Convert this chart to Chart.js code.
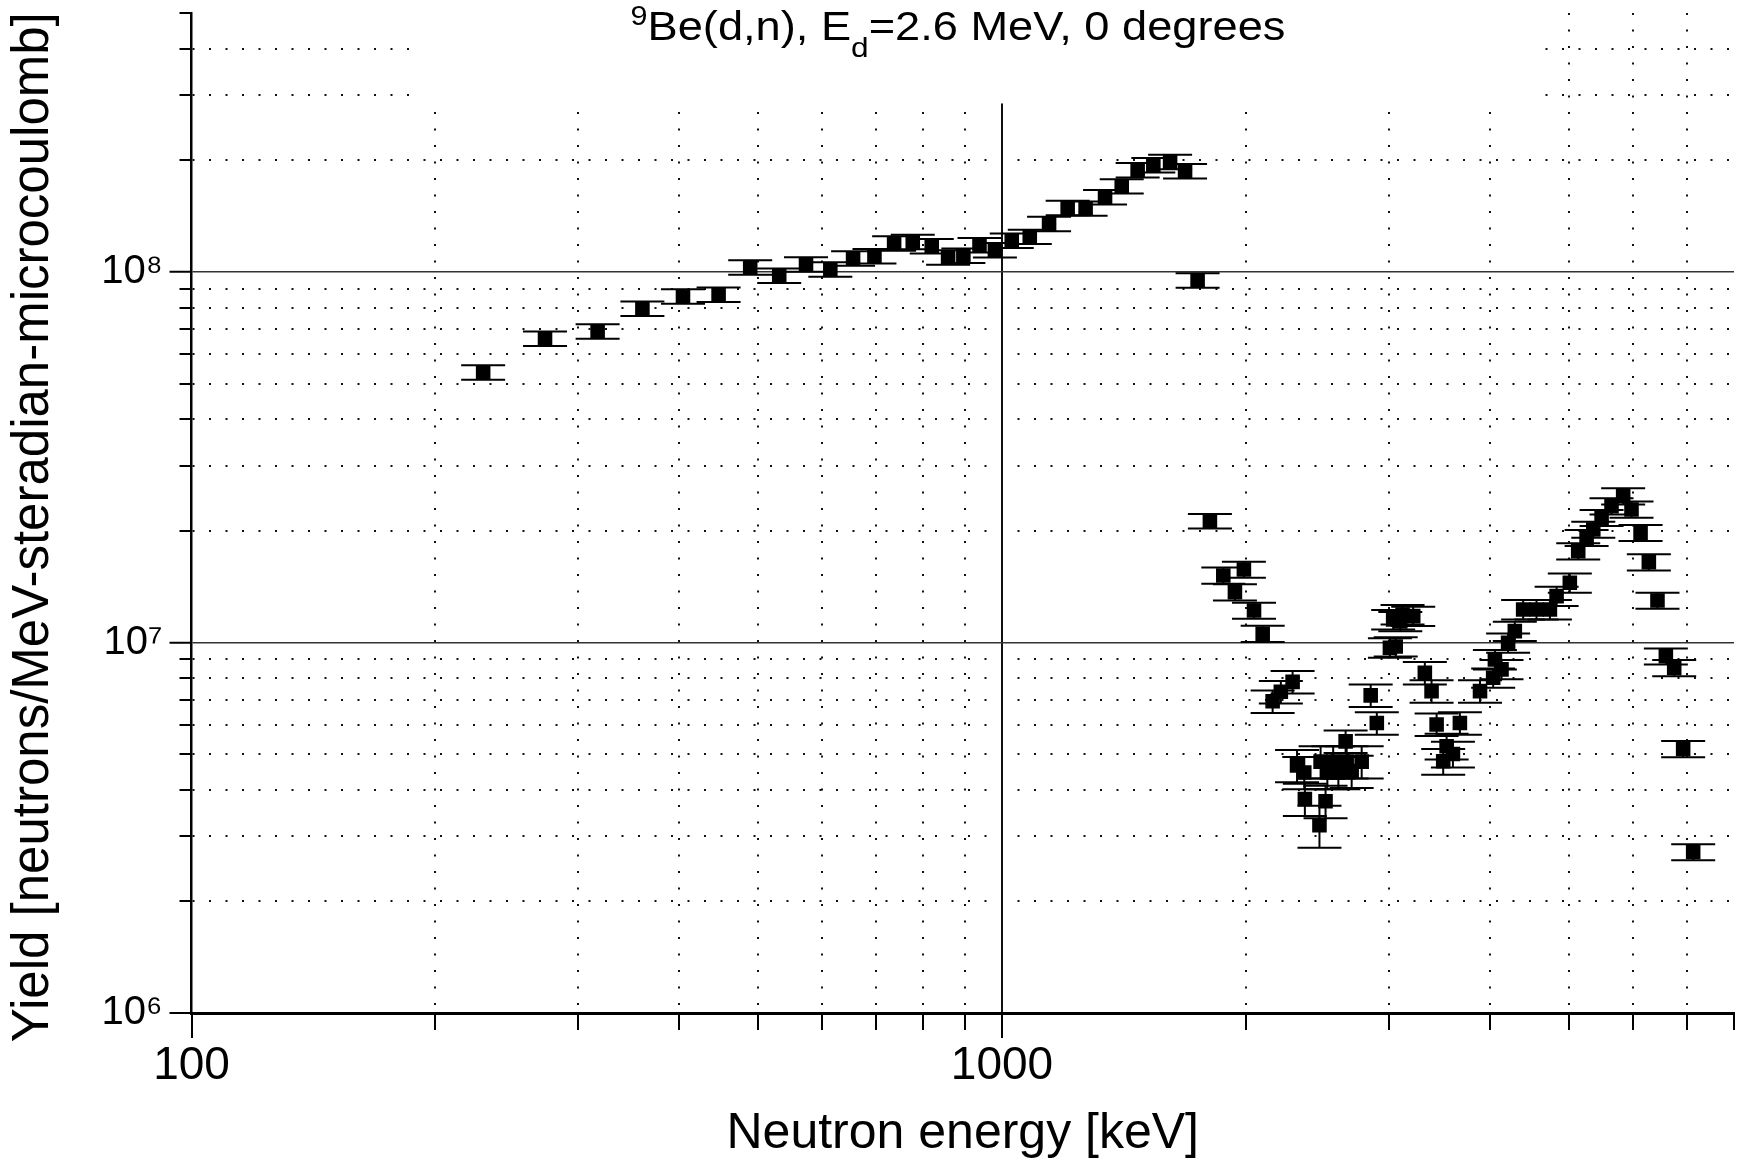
<!DOCTYPE html>
<html>
<head>
<meta charset="utf-8">
<script src="https://cdn.jsdelivr.net/npm/chart.js@4/dist/chart.umd.min.js"></script>
<style>
  html, body { margin: 0; padding: 0; background: #fff; }
  #wrap { position: relative; width: 1746px; height: 1165px; }
</style>
</head>
<body>
<div id="wrap"><canvas id="c" width="1746" height="1165"></canvas></div>
<script>
// ---------------- data ----------------
const energyKeV = [
  229, 273, 317, 360, 404, 447, 489, 531, 573, 614, 655, 696, 736, 776, 819, 858, 896, 938, 980,
  1028, 1082, 1143, 1205, 1268, 1340, 1405, 1470, 1537, 1612, 1682, 1743,
  1805, 1875, 1938, 1988, 2046, 2097, 2157, 2208, 2283,
  2312, 2364, 2360, 2472, 2464, 2507, 2520, 2562, 2600, 2654, 2662, 2700, 2778,
  2850, 2900, 3010, 3038, 3060, 3100, 3120, 3216, 3324, 3388, 3437, 3502, 3536, 3600, 3672,
  3888, 4036, 4056, 4133, 4211, 4292, 4395, 4565, 4742, 4833, 5018, 5139, 5263, 5364,
  5492, 5649, 5839, 5979, 6135, 6281, 6437, 6592, 6750, 6924, 7124
];
const yieldValues = [
  5.36e7, 6.61e7, 6.92e7, 7.96e7, 8.6e7, 8.69e7, 1.03e8, 9.78e7, 1.048e8, 1.016e8, 1.088e8,
  1.103e8, 1.194e8, 1.206e8, 1.174e8, 1.096e8, 1.108e8, 1.181e8, 1.145e8,
  1.216e8, 1.245e8, 1.349e8, 1.49e8, 1.484e8, 1.592e8, 1.704e8, 1.883e8, 1.943e8, 1.984e8, 1.871e8, 9.5e7,
  2.126e7, 1.517e7, 1.367e7, 1.574e7, 1.22e7, 1.056e7, 6.94e6, 7.36e6, 7.83e6,
  4.66e6, 3.78e6, 4.46e6, 4.77e6, 3.21e6, 3.73e6, 4.46e6, 4.77e6, 4.46e6, 5.41e6, 4.77e6, 4.5e6, 4.77e6,
  7.2e6, 6.06e6, 9.68e6, 1.154e7, 9.75e6, 1.14e7, 1.19e7, 1.178e7, 8.28e6, 7.39e6, 6.01e6, 4.78e6, 5.25e6, 5.0e6, 6.06e6,
  7.39e6, 8.03e6, 9.0e6, 8.46e6, 9.98e6, 1.073e7, 1.228e7, 1.228e7, 1.228e7, 1.334e7, 1.449e7, 1.764e7, 1.917e7, 2.018e7,
  2.17e7, 2.333e7, 2.482e7, 2.286e7, 1.977e7, 1.647e7, 1.298e7, 9.18e6, 8.54e6, 5.16e6, 2.72e6
];
const yieldRelError = [
  0.045, 0.045, 0.045, 0.045, 0.045, 0.045, 0.045, 0.045, 0.045, 0.045, 0.045, 0.045, 0.045, 0.045, 0.045, 0.045, 0.045, 0.045, 0.045,
  0.045, 0.045, 0.045, 0.045, 0.045, 0.045, 0.045, 0.045, 0.045, 0.045, 0.045, 0.045,
  0.045, 0.05, 0.05, 0.05, 0.05, 0.05, 0.07, 0.07, 0.07,
  0.1, 0.1, 0.1, 0.1, 0.13, 0.1, 0.1, 0.1, 0.1, 0.07, 0.1, 0.1, 0.1,
  0.07, 0.07, 0.06, 0.06, 0.06, 0.06, 0.06, 0.06, 0.07, 0.07, 0.07, 0.08, 0.08, 0.08, 0.07,
  0.07, 0.06, 0.06, 0.06, 0.06, 0.06, 0.06, 0.06, 0.06, 0.06, 0.06, 0.05, 0.05, 0.05,
  0.05, 0.05, 0.05, 0.05, 0.05, 0.05, 0.05, 0.05, 0.05, 0.05, 0.05
];

const xTickValues = [100, 200, 300, 400, 500, 600, 700, 800, 900, 1000, 2000, 3000, 4000, 5000, 6000, 7000, 8000];
const xTickLabels = { 100: '100', 1000: '1000' };
const yTickValues = [1e6, 2e6, 3e6, 4e6, 5e6, 6e6, 7e6, 8e6, 9e6,
                     1e7, 2e7, 3e7, 4e7, 5e7, 6e7, 7e7, 8e7, 9e7,
                     1e8, 2e8, 3e8, 4e8, 5e8];
const yTickLabels = { 1000000: '10\u2076', 10000000: '10\u2077', 100000000: '10\u2078' };

const titleParts = [
  { text: '9', kind: 'sup' },
  { text: 'Be(d,n), E', kind: 'main' },
  { text: 'd', kind: 'sub' },
  { text: '=2.6 MeV, 0 degrees', kind: 'main' }
];
const xAxisTitle = 'Neutron energy [keV]';
const yAxisTitle = 'Yield [neutrons/MeV-steradian-microcoulomb]';

// ---------------- style ----------------
const FONT = '"Liberation Sans", Arial, Helvetica, sans-serif';
const X_MIN = 100, X_MAX = 8000, Y_MIN = 1e6, Y_MAX = 5e8;
const MASK = { xFrom: 190, xTo: 4500, yFrom: 2.85e8 };   // erased grid area behind the title
const TITLE_STYLE = {
  centerX: 958, baseline: 40, stretchX: 1.13,
  size: { main: 40, sup: 27, sub: 28 },
  shift: { main: 0, sup: -15, sub: 17 }
};

const isMajorX = v => v === 100 || v === 1000;
const isMajorY = v => v === 1e6 || v === 1e7 || v === 1e8;

const maskPlugin = {
  id: 'maskPlugin',
  beforeDatasetsDraw(chart) {
    const { ctx, scales: { x, y }, chartArea } = chart;
    const x0 = x.getPixelForValue(MASK.xFrom), x1 = x.getPixelForValue(MASK.xTo);
    const y1 = y.getPixelForValue(MASK.yFrom);
    ctx.save();
    ctx.fillStyle = '#fff';
    ctx.fillRect(x0, chartArea.top - 2, x1 - x0, y1 - chartArea.top + 2);
    ctx.restore();
  }
};

const errorBarPlugin = {
  id: 'errorBarPlugin',
  afterDatasetsDraw(chart) {
    const { ctx, scales: { x, y } } = chart;
    ctx.save();
    ctx.strokeStyle = '#000';
    ctx.lineWidth = 2;
    const cap = 22;
    energyKeV.forEach((e, i) => {
      const v = yieldValues[i], err = yieldRelError[i];
      const px = x.getPixelForValue(e);
      const yt = y.getPixelForValue(v * (1 + err));
      const yb = y.getPixelForValue(v * (1 - err));
      ctx.beginPath();
      ctx.moveTo(px, yt); ctx.lineTo(px, yb);
      ctx.moveTo(px - cap, yt); ctx.lineTo(px + cap, yt);
      ctx.moveTo(px - cap, yb); ctx.lineTo(px + cap, yb);
      ctx.stroke();
    });
    ctx.restore();
  }
};

const titlePlugin = {
  id: 'titlePlugin',
  afterDraw(chart) {
    const { ctx } = chart;
    const S = TITLE_STYLE;
    ctx.save();
    ctx.fillStyle = '#000';
    ctx.textBaseline = 'alphabetic';
    let total = 0;
    titleParts.forEach(p => { ctx.font = S.size[p.kind] + 'px ' + FONT; total += ctx.measureText(p.text).width; });
    ctx.translate(S.centerX - total * S.stretchX / 2, 0);
    ctx.scale(S.stretchX, 1);
    let cx = 0;
    titleParts.forEach(p => {
      ctx.font = S.size[p.kind] + 'px ' + FONT;
      ctx.fillText(p.text, cx, S.baseline + S.shift[p.kind]);
      cx += ctx.measureText(p.text).width;
    });
    ctx.restore();
  }
};

const points = energyKeV.map((e, i) => ({ x: e, y: yieldValues[i] }));

new Chart(document.getElementById('c'), {
  type: 'scatter',
  data: {
    datasets: [{
      data: points,
      pointStyle: 'rect',
      pointRadius: 10.3,
      pointHoverRadius: 10.3,
      backgroundColor: '#000',
      borderColor: '#000',
      borderWidth: 0,
      showLine: false
    }]
  },
  options: {
    responsive: false,
    animation: false,
    devicePixelRatio: 1,
    layout: { padding: { top: 13, right: 12, bottom: 0, left: 0 } },
    plugins: { legend: { display: false }, title: { display: false }, tooltip: { enabled: false } },
    scales: {
      x: {
        type: 'logarithmic',
        position: 'bottom',
        min: X_MIN, max: X_MAX,
        afterBuildTicks: s => { s.ticks = xTickValues.map(v => ({ value: v, major: isMajorX(v) })); },
        afterFit: s => { s.height = 152; s.paddingLeft = 0; s.paddingRight = 0; },
        ticks: {
          autoSkip: false, maxRotation: 0, minRotation: 0,
          callback: v => xTickLabels[v] || '',
          color: '#000',
          font: { family: FONT, size: 46 },
          padding: 1
        },
        grid: {
          color: c => {
            const v = c.tick && c.tick.value;
            if (v === 100 || v === 8000) return 'rgba(0,0,0,0)';
            return '#111';
          },
          lineWidth: 2,
          tickLength: 25,
          tickColor: '#000',
          tickWidth: 2,
          tickBorderDash: c => (c.tick && isMajorX(c.tick.value)) ? [] : [15, 100]
        },
        border: {
          display: true, color: '#000', width: 3,
          dash: c => (!c.tick || c.tick.value === 1000) ? [] : [2, 14.5]
        },
        title: {
          display: true, text: xAxisTitle, color: '#000',
          font: { family: FONT, size: 50 },
          padding: { top: 0, bottom: 1 }
        }
      },
      y: {
        type: 'logarithmic',
        position: 'left',
        min: Y_MIN, max: Y_MAX,
        afterBuildTicks: s => { s.ticks = yTickValues.map(v => ({ value: v, major: isMajorY(v) })); },
        afterFit: s => { s.width = 191.5; s.paddingTop = 0; s.paddingBottom = 0; },
        ticks: {
          autoSkip: false,
          callback: v => yTickLabels[v] || '',
          color: '#000',
          font: { family: FONT, size: 40 },
          padding: 7
        },
        grid: {
          color: c => {
            const v = c.tick && c.tick.value;
            if (v === 1e6 || v === 5e8) return 'rgba(0,0,0,0)';
            if (v === 1e7 || v === 1e8) return '#333';
            return '#111';
          },
          lineWidth: c => {
            const v = c.tick && c.tick.value;
            return (v === 1e7 || v === 1e8) ? 1.5 : 2;
          },
          tickLength: 22,
          tickColor: '#000',
          tickWidth: 2,
          tickBorderDash: c => (c.tick && isMajorY(c.tick.value)) ? [] : [0, 10, 30, 0]
        },
        border: {
          display: true, color: '#000', width: 2.5,
          dash: c => {
            const v = c.tick && c.tick.value;
            if (!c.tick || v === 1e7 || v === 1e8) return [];
            return [2, 14.5];
          }
        },
        title: {
          display: true, text: yAxisTitle + '  ', color: '#000',
          font: { family: FONT, size: 51 },
          padding: { top: 3, bottom: 0 }
        }
      }
    }
  },
  plugins: [maskPlugin, errorBarPlugin, titlePlugin]
});
</script>
</body>
</html>
